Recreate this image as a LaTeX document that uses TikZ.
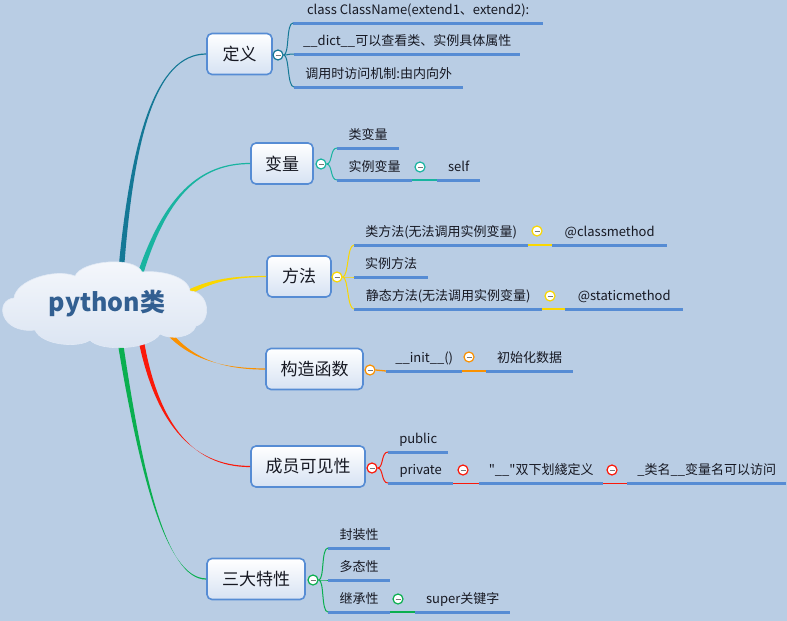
\documentclass[tikz,border=0pt]{standalone}
\usepackage{fontspec}
\setmainfont{Noto Sans CJK SC}[Ligatures=TeXOff]
\usetikzlibrary{calc}
\definecolor{bgc}{RGB}{185,205,228}
\definecolor{ulc}{RGB}{86,140,212}
\definecolor{boxc}{RGB}{86,140,212}
\definecolor{topicbot}{RGB}{214,226,243}
\definecolor{txt}{RGB}{22,24,34}
\definecolor{titlec}{RGB}{50,95,145}
\definecolor{cA}{RGB}{20,120,150}
\definecolor{cB}{RGB}{25,180,160}
\definecolor{cC}{RGB}{250,215,0}
\definecolor{cD}{RGB}{250,145,0}
\definecolor{cE}{RGB}{250,25,10}
\definecolor{cF}{RGB}{10,175,80}
\definecolor{cloudtop}{RGB}{246,248,252}
\definecolor{cloudbot}{RGB}{218,228,242}
\definecolor{cloudline}{RGB}{225,233,245}
\definecolor{minusc}{RGB}{120,120,120}
\newcommand\leaf[5]{%
  \node[leaf, minimum width=#4pt] (#1) at (#2,#3) {\makebox[0pt]{#5}};
  \draw[uline] (#1.south west) -- (#1.south east);}
\newcommand\taper[7]{%
  \fill[#1] ($(#2)+(#6,#7)$) .. controls ($(#3)+0.5*(#6,#7)$) and ($(#4)+(0,0.6)$) .. ($(#5)+(0,0.6)$)
    -- ($(#5)-(0,0.6)$) .. controls ($(#4)-(0,0.6)$) and ($(#3)-0.5*(#6,#7)$) .. ($(#2)-(#6,#7)$) -- cycle;}
\begin{document}
\begin{tikzpicture}[x=1pt,y=-1pt,
  topic/.style={draw=boxc, line width=1.6pt, rounded corners=5pt, top color=white, bottom color=topicbot,
    text=txt, font=\fontsize{17}{20}\selectfont, inner sep=0, minimum height=41pt},
  leaf/.style={inner sep=0, anchor=south west, minimum height=22.5pt, text height=9.5pt, text depth=3pt,
    font=\fontsize{13}{15}\selectfont, text=txt},
  uline/.style={draw=ulc, line width=3pt},
  tog/.style={circle, minimum size=10pt, inner sep=0, line width=1.2pt, fill=white,
    path picture={\draw[line width=1pt, minusc] ([xshift=-2.5pt]path picture bounding box.center) -- ([xshift=2.5pt]path picture bounding box.center);}},
  conn/.style={line width=1pt}]
\useasboundingbox[fill=bgc] (0,0) rectangle (787,621);

% topic boxes
\node[topic, minimum width=65pt] (t1) at (239.5,54) {定义};
\node[topic, minimum width=62pt] (t2) at (282,163.5) {变量};
\node[topic, minimum width=64pt] (t3) at (299,276.5) {方法};
\node[topic, minimum width=97pt] (t4) at (314.5,369) {构造函数};
\node[topic, minimum width=114pt] (t5) at (308,466.5) {成员可见性};
\node[topic, minimum width=98pt] (t6) at (256,579) {三大特性};

% main curves
\coordinate (s1) at (121,272);
\coordinate (s2) at (139,278);
\coordinate (s3) at (186,294);
\coordinate (s4) at (163,326);
\coordinate (s5) at (140,334);
\coordinate (s6) at (119,334);
\taper{cA}{s1}{132,140}{155,54}{t1.west}{2.8}{0.25}
\taper{cB}{s2}{165,195}{200,163.5}{t2.west}{2.7}{0.9}
\taper{cC}{s3}{210,280}{235,276.5}{t3.west}{1.1}{2.5}
\taper{cD}{s4}{185,355}{215,369}{t4.west}{2.2}{-1.7}
\taper{cE}{s5}{155,420}{190,466.5}{t5.west}{2.7}{-0.5}
\taper{cF}{s6}{140,470}{165,579}{t6.west}{2.75}{-0.45}

% root cloud
\shade[top color=cloudtop, bottom color=cloudbot, draw=cloudline, line width=0.6pt]
  (14,298) .. controls (16,280) and (55,268) .. (75,276)
  .. controls (82,260) and (135,256) .. (142,272)
  .. controls (160,270) and (188,276) .. (190,291)
  .. controls (210,292) and (212,322) .. (196,326)
  .. controls (192,338) and (170,340) .. (160,334)
  .. controls (150,350) and (100,352) .. (90,340)
  .. controls (80,348) and (42,346) .. (35,330)
  .. controls (0,334) and (-6,300) .. (14,298) -- cycle;
\node[text=titlec, font=\fontsize{25}{28}\selectfont\bfseries, inner sep=0] (root) at (107,304) {python类};

% 定义
\leaf{a1}{293}{23}{250}{class ClassName(extend1、extend2):}
\leaf{a2}{294}{54}{226}{\_\_dict\_\_可以查看类、实例具体属性}
\leaf{a3}{294}{87}{169}{调用时访问机制:由内向外}
\node[tog, draw=cA] (g1) at (278,55) {};
\foreach \n in {a1,a2,a3}{\draw[conn, cA] (g1.east) .. controls ($(g1.east)+(6,0)$) and ($(\n.south west)+(-7,0)$) .. (\n.south west);}

% 变量
\leaf{b1}{337}{148}{62}{类变量}
\leaf{b2}{337}{180}{75}{实例变量}
\leaf{b3}{437}{180}{43}{self}
\node[tog, draw=cB] (g2) at (321,164) {};
\foreach \n in {b1,b2}{\draw[conn, cB] (g2.east) .. controls ($(g2.east)+(6,0)$) and ($(\n.south west)+(-7,0)$) .. (\n.south west);}
\draw[conn, cB, line width=1.3pt] (b2.south east) -- (b3.south west);
\node[tog, draw=cB] (g2b) at (420,167) {};

% 方法
\leaf{m1}{354}{245}{174}{类方法(无法调用实例变量)}
\leaf{m1b}{552}{245}{115}{@classmethod}
\leaf{m2}{354}{277}{74}{实例方法}
\leaf{m3}{354}{309}{188}{静态方法(无法调用实例变量)}
\leaf{m3b}{565}{309}{118}{@staticmethod}
\node[tog, draw=cC] (g3) at (337,277) {};
\foreach \n in {m1,m2,m3}{\draw[conn, cC] (g3.east) .. controls ($(g3.east)+(6,0)$) and ($(\n.south west)+(-7,0)$) .. (\n.south west);}
\draw[conn, cC, line width=1.3pt] (m1.south east) -- (m1b.south west);
\draw[conn, cC, line width=1.3pt] (m3.south east) -- (m3b.south west);
\node[tog, draw=cC] (g3a) at (537,231) {};
\node[tog, draw=cC] (g3b) at (550,296) {};

% 构造函数
\leaf{k1}{386}{371}{76}{\_\_init\_\_()}
\leaf{k2}{486}{371}{87}{初始化数据}
\node[tog, draw=cD] (g4) at (370,370) {};
\draw[conn, cD, line width=1.3pt] (g4.east) -- (k1.south west);
\draw[conn, cD, line width=1.3pt] (k1.south east) -- (k2.south west);
\node[tog, draw=cD] (g4a) at (469,357) {};

% 成员可见性
\leaf{p1}{388}{452}{60}{public}
\leaf{p2}{388}{483}{65}{private}
\leaf{p3}{479}{483}{124}{"\_\_"双下划綫定义}
\leaf{p4}{627}{483}{159}{\_类名\_\_变量名可以访问}
\node[tog, draw=cE] (g5) at (372,468) {};
\foreach \n in {p1,p2}{\draw[conn, cE] (g5.east) .. controls ($(g5.east)+(6,0)$) and ($(\n.south west)+(-7,0)$) .. (\n.south west);}
\draw[conn, cE] (p2.south east) -- (p3.south west);
\draw[conn, cE] (p3.south east) -- (p4.south west);
\node[tog, draw=cE] (g5a) at (463,470) {};
\node[tog, draw=cE] (g5b) at (612,470) {};

% 三大特性
\leaf{q1}{328}{548}{62}{封装性}
\leaf{q2}{328}{580}{62}{多态性}
\leaf{q3}{328}{612}{62}{继承性}
\leaf{q4}{415}{612}{95}{super关键字}
\node[tog, draw=cF] (g6) at (313,580) {};
\foreach \n in {q1,q2,q3}{\draw[conn, cF] (g6.east) .. controls ($(g6.east)+(6,0)$) and ($(\n.south west)+(-7,0)$) .. (\n.south west);}
\draw[conn, cF, line width=1.3pt] (q3.south east) -- (q4.south west);
\node[tog, draw=cF] (g6a) at (398,599) {};
\end{tikzpicture}
\end{document}
